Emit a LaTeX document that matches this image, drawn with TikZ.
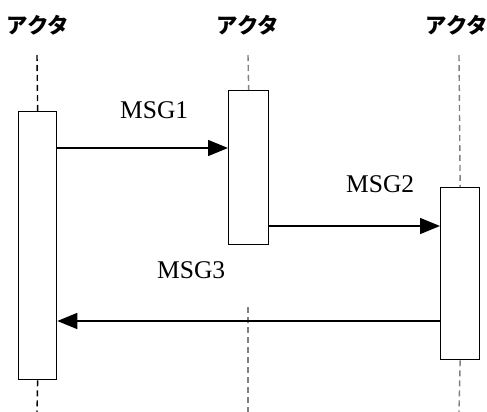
\documentclass[tikz,border=0pt]{standalone}
\usepackage{fontspec}
\setmainfont{Liberation Serif}
\newfontfamily\jpfont{Noto Sans CJK JP}
\usetikzlibrary{arrows.meta}
\begin{document}
\begin{tikzpicture}[x=1pt,y=-1pt,
  actor/.style={font=\jpfont\bfseries\fontsize{21.5}{23}\selectfont, inner sep=0pt},
  actbox/.style={draw=black, line width=1.3pt, fill=white, inner sep=0pt, anchor=north west},
  lifeblack/.style={draw=black, line width=1.4pt, dash pattern=on 6pt off 4pt},
  lifegray/.style={draw=black!50, line width=1.4pt, dash pattern=on 6pt off 4pt},
  msg/.style={draw=black, line width=1.5pt, -{Triangle[length=20pt,width=16pt]}},
  msglabel/.style={font=\fontsize{25.5}{28}\selectfont, inner sep=0pt, anchor=base west}]
\useasboundingbox (0,0) rectangle (487,412);
% actors
\node[actor] (a1) at (38,25) {アクタ};
\node[actor] (a2) at (248,25) {アクタ};
\node[actor] (a3) at (457,25) {アクタ};
% activation boxes
\node[actbox, minimum width=38pt, minimum height=268pt] (b1) at (18,111) {};
\node[actbox, minimum width=40pt, minimum height=154pt] (b2) at (228,90) {};
\node[actbox, minimum width=39pt, minimum height=172pt] (b3) at (440,187) {};
% lifeline coordinates
\coordinate (t1) at (37,55);
\coordinate (e1) at (37,412);
\coordinate (t2) at (248,55);
\coordinate (s2) at (248,307);
\coordinate (e2) at (248,412);
\coordinate (t3) at (459,55);
\coordinate (e3) at (459,412);
\draw[lifeblack] (t1) -- (b1.north);
\draw[lifeblack] (b1.south) -- (e1);
\draw[lifegray] (t2) -- (b2.north);
\draw[lifegray] (s2) -- (e2);
\draw[lifegray] (t3) -- (b3.north);
\draw[lifegray] (b3.south) -- (e3);
% messages
\coordinate (m1) at (0,148);
\coordinate (m2) at (0,226);
\coordinate (m3) at (0,321);
\draw[msg] (b1.east |- m1) -- (b2.west |- m1);
\draw[msg] (b2.east |- m2) -- (b3.west |- m2);
\draw[msg] (b3.west |- m3) -- (b1.east |- m3);
\node[msglabel] (l1) at (120,118) {MSG1};
\node[msglabel] (l2) at (346,192) {MSG2};
\node[msglabel] (l3) at (157,278) {MSG3};
\end{tikzpicture}
\end{document}
